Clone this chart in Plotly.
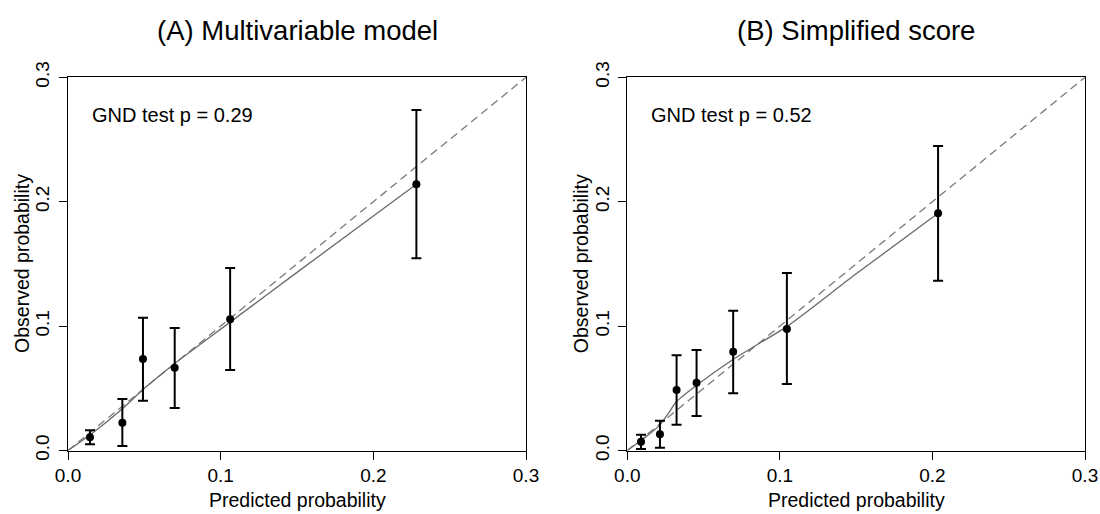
import plotly.graph_objects as go

# ---- Panel A: Multivariable model ----
a_pred = [0.0144, 0.0356, 0.0491, 0.0699, 0.1062, 0.2282]
a_obs = [0.0106, 0.0223, 0.0736, 0.0666, 0.1055, 0.2140]
a_lo = [0.0050, 0.0036, 0.0400, 0.0342, 0.0647, 0.1545]
a_hi = [0.0162, 0.0414, 0.1068, 0.0985, 0.1467, 0.2737]
a_smooth_x = [0.0, 0.015, 0.036, 0.05, 0.07, 0.106, 0.152, 0.2282]
a_smooth_y = [0.0, 0.013, 0.034, 0.050, 0.070, 0.103, 0.145, 0.2140]
a_label = "GND test p = 0.29"
a_title = "(A) Multivariable model"

# ---- Panel B: Simplified score ----
b_pred = [0.0090, 0.0214, 0.0323, 0.0454, 0.0694, 0.1046, 0.2037]
b_obs = [0.0071, 0.0130, 0.0486, 0.0545, 0.0794, 0.0977, 0.1907]
b_lo = [0.0012, 0.0023, 0.0207, 0.0277, 0.0460, 0.0535, 0.1365]
b_hi = [0.0127, 0.0240, 0.0765, 0.0808, 0.1124, 0.1427, 0.2448]
b_smooth_x = [0.0, 0.010, 0.021, 0.027, 0.032, 0.045, 0.069, 0.085, 0.105, 0.150, 0.2037]
b_smooth_y = [0.0, 0.009, 0.020, 0.030, 0.039, 0.052, 0.073, 0.085, 0.100, 0.142, 0.1907]
b_label = "GND test p = 0.52"
b_title = "(B) Simplified score"

diag = [0.0, 0.3]
tick_vals = [0.0, 0.1, 0.2, 0.3]
tick_text = ["0.0", "0.1", "0.2", "0.3"]
x_title = "Predicted probability"
y_title = "Observed probability"

FONT = "Arial, Liberation Sans, Helvetica, sans-serif"
W, H = 1100, 514

fig = go.Figure()

panels = [
    (a_pred, a_obs, a_lo, a_hi, a_smooth_x, a_smooth_y, "x", "y"),
    (b_pred, b_obs, b_lo, b_hi, b_smooth_x, b_smooth_y, "x2", "y2"),
]
for pred, obs, lo, hi, sx, sy, xa, ya in panels:
    fig.add_trace(go.Scatter(x=diag, y=diag, mode="lines", xaxis=xa, yaxis=ya,
                             line=dict(color="#7a7a7a", width=1.3, dash="8px,5px"),
                             showlegend=False, hoverinfo="skip"))
    fig.add_trace(go.Scatter(x=sx, y=sy, mode="lines", xaxis=xa, yaxis=ya,
                             line=dict(color="#6a6a6a", width=1.3, shape="spline", smoothing=0.7),
                             showlegend=False, hoverinfo="skip"))
    fig.add_trace(go.Scatter(
        x=pred, y=obs, mode="markers", xaxis=xa, yaxis=ya,
        marker=dict(color="black", size=8),
        error_y=dict(type="data", symmetric=False,
                     array=[h - o for h, o in zip(hi, obs)],
                     arrayminus=[o - l for o, l in zip(obs, lo)],
                     color="black", thickness=2, width=5),
        showlegend=False))

x_dom_a = [68 / W, 526 / W]
x_dom_b = [627.3 / W, 1085 / W]
y_dom = [(H - 450.5) / H, (H - 77.3) / H]

xcommon = dict(range=[0, 0.3], tickvals=tick_vals, ticktext=tick_text, automargin=False,
               showline=True, linecolor="black", linewidth=1.2, mirror=True,
               ticks="outside", ticklen=8, tickcolor="black", tickwidth=1.2,
               showgrid=False, zeroline=False,
               tickfont=dict(family=FONT, size=19, color="black"))
ycommon = dict(range=[0, 0.3], tickvals=tick_vals, ticktext=tick_text, automargin=False,
               showline=True, linecolor="black", linewidth=1.2, mirror=True,
               ticks="outside", ticklen=8, tickcolor="black", tickwidth=1.2,
               showgrid=False, zeroline=False, tickangle=-90, ticklabelstandoff=2,
               tickfont=dict(family=FONT, size=19, color="black"))

def txt(text, x, y, size, angle=0, xref="paper", yref="paper", xanchor="center"):
    return dict(text=text, x=x, y=y, xref=xref, yref=yref, xanchor=xanchor, yanchor="middle",
                showarrow=False, textangle=angle, font=dict(family=FONT, size=size, color="black"))

annotations = []
for dom, title, label, xr, yr in [(x_dom_a, a_title, a_label, "x", "y"),
                                   (x_dom_b, b_title, b_label, "x2", "y2")]:
    cx = (dom[0] + dom[1]) / 2
    annotations.append(txt(title, cx, 1 - 30 / H, 27.5))
    annotations.append(txt(x_title, cx, 1 - 500 / H, 19.5))
    annotations.append(txt(y_title, dom[0] - 46 / W, (y_dom[0] + y_dom[1]) / 2, 19.5, angle=-90))
    annotations.append(txt(label, 0.0144, 0.27, 20, xref=xr, yref=yr, xanchor="left"))

fig.update_layout(
    width=W, height=H,
    margin=dict(l=0, r=0, t=0, b=0),
    paper_bgcolor="white", plot_bgcolor="white",
    font=dict(family=FONT, color="black"),
    xaxis=dict(domain=x_dom_a, anchor="y", **xcommon),
    yaxis=dict(domain=y_dom, anchor="x", **ycommon),
    xaxis2=dict(domain=x_dom_b, anchor="y2", **xcommon),
    yaxis2=dict(domain=y_dom, anchor="x2", **ycommon),
    annotations=annotations,
)

fig.write_html("out.html", config={"displayModeBar": False},
               post_script="document.body.style.margin='0';document.body.style.padding='0';"
                           "document.documentElement.style.overflow='hidden';")
